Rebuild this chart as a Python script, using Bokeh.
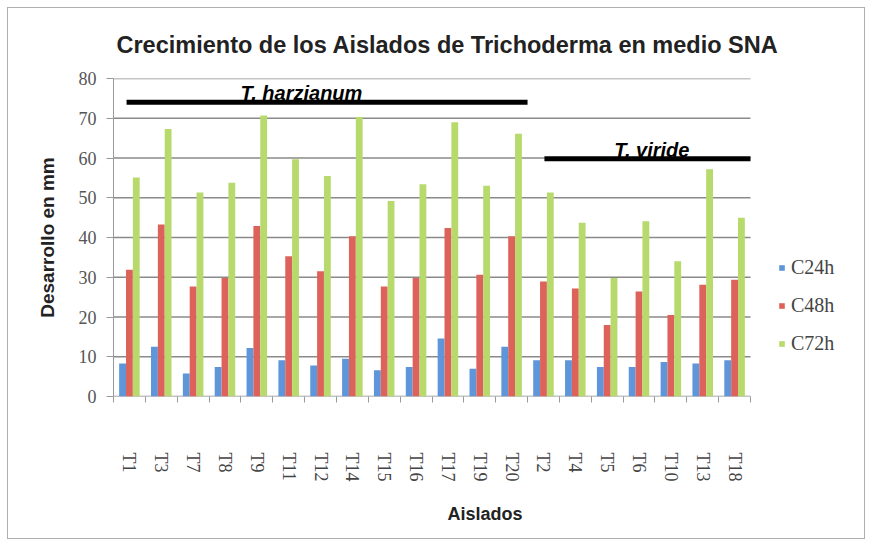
from bokeh.plotting import figure
from bokeh.models import (Range1d, LinearAxis, FixedTicker, ColumnDataSource, Legend, LegendItem)
from bokeh.embed import file_html
from bokeh.resources import INLINE
from bokeh.core.properties import value

# ---- data ----
aislados = ["T1", "T3", "T7", "T8", "T9", "T11", "T12", "T14", "T15", "T16",
            "T17", "T19", "T20", "T2", "T4", "T5", "T6", "T10", "T13", "T18"]
c24h = [8.3, 12.5, 5.8, 7.4, 12.2, 9.1, 7.8, 9.5, 6.6, 7.4,
        14.6, 7.0, 12.5, 9.1, 9.1, 7.4, 7.4, 8.7, 8.3, 9.1]
c48h = [31.9, 43.3, 27.7, 29.8, 42.9, 35.3, 31.5, 40.3, 27.7, 29.8,
        42.4, 30.6, 40.3, 28.9, 27.2, 18.0, 26.4, 20.5, 28.1, 29.4]
c72h = [55.1, 67.3, 51.3, 53.8, 70.7, 59.7, 55.5, 70.3, 49.2, 53.4,
        69.0, 53.0, 66.1, 51.3, 43.7, 29.8, 44.1, 34.0, 57.2, 45.0]
series_names = ["C24h", "C48h", "C72h"]
y_ticks = [0, 10, 20, 30, 40, 50, 60, 70, 80]

# group annotations (species brackets): line start/end (category units), level, label position
grupos = ["T. harzianum", "T. viride"]
grupo_x0 = [0.41, 13.53]
grupo_x1 = [13.0, 20.0]
grupo_y = [74.0, 59.8]
grupo_label_x = [5.9, 16.9]

colors = ["#5f95d9", "#de625c", "#b8da6c"]

n = len(aislados)
centers = [i + 0.5 for i in range(n)]
bw = 0.215
series = dict(C24h=c24h, C48h=c48h, C72h=c72h)
x_end = n * 743 / 637  # frame extends right to make room for the legend

p = figure(width=858, height=532, x_range=Range1d(0, x_end), y_range=Range1d(0, 80),
           output_backend="svg", toolbar_location=None, x_axis_location=None,
           min_border_left=105, min_border_right=10, min_border_top=70, min_border_bottom=144)
p.styles = {"border": "1px solid #b0b0b0", "margin": "7px 0 0 7px"}

# horizontal gridlines limited to the category area
gsrc_grid = ColumnDataSource(dict(y=y_ticks, x0=[0] * len(y_ticks), x1=[n] * len(y_ticks)))
p.segment(x0="x0", x1="x1", y0="y", y1="y", source=gsrc_grid,
          line_color="#8a8a8a", line_width=1.3)

renderers = []
for i, (name, col) in enumerate(zip(series_names, colors)):
    off = (i - 1) * bw
    s = ColumnDataSource(dict(x=[c + off for c in centers], top=series[name]))
    r = p.vbar(x="x", top="top", width=bw, source=s, fill_color=col, line_color=None)
    renderers.append(r)

# y axis
p.yaxis.ticker = FixedTicker(ticks=y_ticks)
p.yaxis.axis_label = "Desarrollo en mm"
p.yaxis.axis_label_text_font = "Liberation Sans"
p.yaxis.axis_label_text_font_style = "bold"
p.yaxis.axis_label_text_font_size = "19px"
p.yaxis.axis_label_text_color = "#222222"
p.yaxis.axis_label_standoff = 18
p.yaxis.major_label_text_font = "Liberation Serif"
p.yaxis.major_label_text_font_size = "18px"
p.yaxis.major_label_text_color = "#555555"
p.yaxis.major_label_standoff = 10
p.yaxis.major_tick_out = 7
p.yaxis.major_tick_in = 0
p.yaxis.minor_tick_out = 0
p.yaxis.minor_tick_in = 0
p.yaxis.axis_line_color = "#999999"
p.yaxis.major_tick_line_color = "#999999"

# x tick axis at category edges
tick_axis = LinearAxis(ticker=FixedTicker(ticks=list(range(n + 1))))
tick_axis.major_label_text_font_size = "0px"
tick_axis.major_label_standoff = 0
tick_axis.major_tick_out = 6
tick_axis.major_tick_in = 0
tick_axis.minor_tick_out = 0
tick_axis.axis_line_color = None
tick_axis.major_tick_line_color = "#999999"
p.add_layout(tick_axis, "below")

cat_axis = LinearAxis(ticker=FixedTicker(ticks=centers),
                      major_label_overrides={c: a for c, a in zip(centers, aislados)})
cat_axis.major_tick_line_color = None
cat_axis.minor_tick_line_color = None
cat_axis.axis_line_color = None
cat_axis.major_label_orientation = "vertical"
cat_axis.major_label_text_font = "Liberation Serif"
cat_axis.major_label_text_font_size = "18px"
cat_axis.major_label_text_color = "#444444"
cat_axis.major_label_standoff = 44
cat_axis.axis_label = "Aislados"
cat_axis.axis_label_text_font = "Liberation Sans"
cat_axis.axis_label_text_font_style = "bold"
cat_axis.axis_label_text_font_size = "18px"
cat_axis.axis_label_text_color = "#222222"
cat_axis.axis_label_standoff = 20
p.add_layout(cat_axis, "below")

# grid (drawn above as segments)
p.xgrid.grid_line_color = None
p.ygrid.grid_line_color = None
p.outline_line_color = None

# title
p.title.text = "Crecimiento de los Aislados de Trichoderma en medio SNA"
p.title.align = "left"
p.title.text_font = "Liberation Sans"
p.title.text_font_style = "bold"
p.title.text_font_size = "23.5px"
p.title.text_color = "#222222"
p.title.offset = 3
p.title.standoff = 41

# species brackets
gsrc = ColumnDataSource(dict(x0=grupo_x0, x1=grupo_x1, y=grupo_y, label=grupos, xl=grupo_label_x))
p.segment(x0="x0", x1="x1", y0="y", y1="y", source=gsrc,
          line_color="black", line_width=5)
p.text(x="xl", y="y", text="label", source=gsrc,
       text_font=value("Liberation Sans"), text_font_style="bold italic",
       text_font_size="20px", text_align="center", text_baseline="alphabetic",
       y_offset=-9, text_color="black")

# legend
legend = Legend(items=[LegendItem(label=nm, renderers=[r]) for nm, r in zip(series_names, renderers)],
                location=(665, 41), border_line_color=None, background_fill_alpha=0,
                padding=0, margin=0,
                glyph_width=7, glyph_height=7, label_standoff=6, spacing=15,
                label_text_font="Liberation Serif", label_text_font_size="20px",
                label_text_color="#444444")
p.add_layout(legend, "center")

open("out.html", "w").write(file_html(p, INLINE))
